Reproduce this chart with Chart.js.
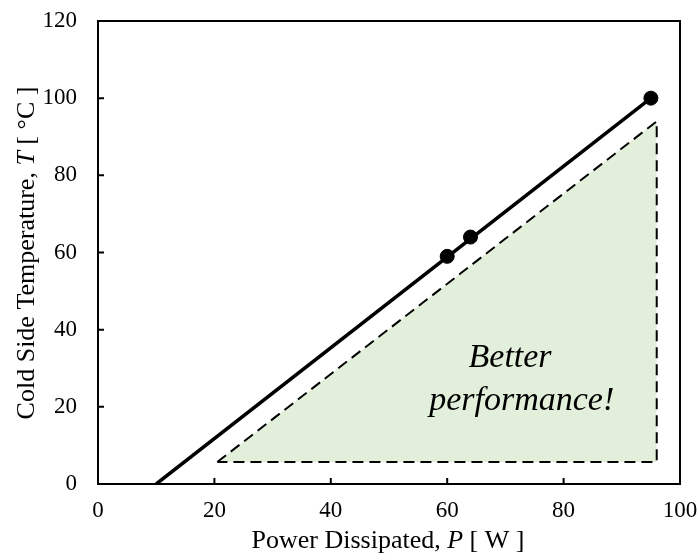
<!DOCTYPE html>
<html>
<head>
<meta charset="utf-8">
<script src="https://cdn.jsdelivr.net/npm/chart.js@4.4.1/dist/chart.umd.min.js"></script>
<style>
    html, body { margin: 0; padding: 0; background: #fff; }
    #wrap { width: 698px; height: 560px; position: relative; }
</style>
</head>
<body>
<div id="wrap"><canvas id="chart"></canvas></div>
<script>
// measured points
const measuredPower = [60, 64, 95];
const measuredTemp = [59, 64, 100];

// fitted line, extended down to T = 0
const fitPower = [10, 95];
const fitTemp = [0, 100];

// "better performance" triangle (outline, closed)
const regionPower = [20.5, 96, 96, 20.5];
const regionTemp = [5.7, 94, 5.7, 5.7];
const regionBase = 5.7;

const xTicks = [0, 20, 40, 60, 80, 100];
const yTicks = [0, 20, 40, 60, 80, 100, 120];

const SERIF = '"Liberation Serif", "Times New Roman", serif';

function toPoints(xs, ys) {
    return xs.map((x, i) => ({ x: x, y: ys[i] }));
}

// draw a line of text made of parts with different fonts, centred on x
function drawRich(ctx, parts, x, y) {
    let total = 0;
    parts.forEach(p => { ctx.font = p.font; total += ctx.measureText(p.text).width; });
    let cx = x - total / 2;
    ctx.textAlign = 'left';
    parts.forEach(p => {
        ctx.font = p.font;
        ctx.fillText(p.text, cx, y);
        cx += ctx.measureText(p.text).width;
    });
}

const framePlugin = {
    id: 'frame',
    afterDraw(chart) {
        const ctx = chart.ctx;
        const a = chart.chartArea;
        const xs = chart.scales.x;
        const ys = chart.scales.y;
        ctx.save();
        ctx.strokeStyle = '#000';
        ctx.lineWidth = 2;
        ctx.strokeRect(a.left, a.top, a.right - a.left, a.bottom - a.top);

        // inward tick marks
        ctx.beginPath();
        xTicks.forEach(v => {
            const px = xs.getPixelForValue(v);
            ctx.moveTo(px, a.bottom);
            ctx.lineTo(px, a.bottom - 6);
        });
        yTicks.forEach(v => {
            const py = ys.getPixelForValue(v);
            ctx.moveTo(a.left, py);
            ctx.lineTo(a.left + 6, py);
        });
        ctx.stroke();

        ctx.fillStyle = '#000';
        ctx.textBaseline = 'alphabetic';

        // x axis title
        drawRich(ctx, [
            { text: 'Power Dissipated, ', font: '26px ' + SERIF },
            { text: 'P', font: 'italic 26px ' + SERIF },
            { text: ' [ W ]', font: '26px ' + SERIF }
        ], 388, 548);

        // y axis title
        ctx.save();
        ctx.translate(34, 253);
        ctx.rotate(-Math.PI / 2);
        drawRich(ctx, [
            { text: 'Cold Side Temperature, ', font: '26px ' + SERIF },
            { text: 'T', font: 'italic 26px ' + SERIF },
            { text: ' [ \u00B0C ]', font: '26px ' + SERIF }
        ], 0, 0);
        ctx.restore();

        // note inside the region
        ctx.font = 'italic 34px ' + SERIF;
        ctx.textAlign = 'center';
        ctx.fillText('Better', xs.getPixelForValue(70.8), 367);
        ctx.fillText('performance!', xs.getPixelForValue(72.8), 410);
        ctx.restore();
    }
};

const ctx = document.getElementById('chart').getContext('2d');
new Chart(ctx, {
    type: 'scatter',
    data: {
        datasets: [
            {
                // green fill under the dashed hypotenuse
                data: toPoints(regionPower.slice(0, 2), regionTemp.slice(0, 2)),
                showLine: true,
                borderWidth: 0,
                pointRadius: 0,
                backgroundColor: '#e2efda',
                fill: { value: regionBase },
                order: 3
            },
            {
                data: toPoints(regionPower, regionTemp),
                showLine: true,
                borderColor: '#000',
                borderWidth: 2,
                borderDash: [11, 6],
                pointRadius: 0,
                fill: false,
                order: 2
            },
            {
                data: toPoints(fitPower, fitTemp),
                showLine: true,
                borderColor: '#000',
                borderWidth: 3.5,
                pointRadius: 0,
                fill: false,
                order: 1
            },
            {
                data: toPoints(measuredPower, measuredTemp),
                showLine: false,
                pointRadius: 7,
                pointBackgroundColor: '#000',
                pointBorderColor: '#000',
                order: 0
            }
        ]
    },
    options: {
        responsive: true,
        maintainAspectRatio: false,
        animation: false,
        layout: { autoPadding: false, padding: { top: 21, right: 18, left: 0, bottom: 0 } },
        plugins: { legend: { display: false }, tooltip: { enabled: false } },
        scales: {
            x: {
                type: 'linear',
                min: 0, max: 100,
                grid: { display: false, drawTicks: false },
                border: { display: false },
                afterFit: s => { s.height = 76; s.paddingLeft = 0; s.paddingRight = 0; },
                afterBuildTicks: s => { s.ticks = xTicks.map(v => ({ value: v })); },
                ticks: { color: '#000', padding: 13, font: { family: SERIF, size: 23 } }
            },
            y: {
                type: 'linear',
                min: 0, max: 120,
                grid: { display: false, drawTicks: false },
                border: { display: false },
                afterFit: s => { s.width = 98; s.paddingTop = 0; s.paddingBottom = 0; },
                afterBuildTicks: s => { s.ticks = yTicks.map(v => ({ value: v })); },
                ticks: { color: '#000', padding: 21, font: { family: SERIF, size: 23 } }
            }
        }
    },
    plugins: [framePlugin]
});
</script>
</body>
</html>
